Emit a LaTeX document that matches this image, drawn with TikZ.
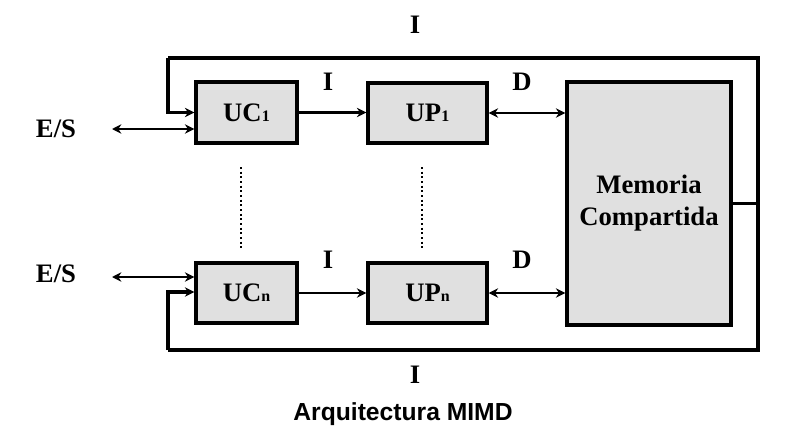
\documentclass[tikz,border=0pt]{standalone}
\usepackage{fontspec}
\setmainfont{Liberation Serif}
\setsansfont{Liberation Sans}
\usetikzlibrary{arrows.meta}
\begin{document}
\begin{tikzpicture}[x=0.75pt,y=-0.75pt,
  blk/.style={draw,line width=2.6pt,fill=black!12,font=\fontsize{20}{24}\selectfont\bfseries,inner sep=0pt},
  lbl/.style={font=\fontsize{20}{24}\selectfont\bfseries,inner sep=0pt},
  conn/.style={line width=2pt},
  tip/.style={-{Stealth[length=7pt,width=7pt]}},
  tips/.style={{Stealth[length=7pt,width=7pt]}-{Stealth[length=7pt,width=7pt]}},
  loop/.style={line width=2.4pt}]
\useasboundingbox (0,0) rectangle (797,439);
\newcommand{\sbx}[1]{{\fontsize{12}{12}\selectfont #1}}
\node[blk,minimum width=75.75pt,minimum height=45.75pt] (UC1) at (246.5,112.5) {UC\sbx{1}};
\node[blk,minimum width=89.25pt,minimum height=45pt] (UP1) at (427.5,113) {UP\sbx{1}};
\node[blk,minimum width=75.75pt,minimum height=45pt] (UCn) at (246.5,293) {UC\sbx{n}};
\node[blk,minimum width=89.25pt,minimum height=45pt] (UPn) at (427.5,293) {UP\sbx{n}};
\node[blk,minimum width=123pt,minimum height=182.25pt,align=center] (Mem) at (649,203.5) {Memoria\\Compartida};
% labels
\node[lbl] (ES1) at (56,129) {E/S};
\node[lbl] (ESn) at (56,274) {E/S};
\node[lbl] (I1) at (328,82) {I};
\node[lbl] (D1) at (522,82) {D};
\node[lbl] (In) at (328,260) {I};
\node[lbl] (Dn) at (522,260) {D};
\node[lbl] (Itop) at (415,25) {I};
\node[lbl] (Ibot) at (415,375) {I};
\node[font=\sffamily\bfseries\fontsize{18.5}{20}\selectfont,inner sep=0pt] (title) at (403,414) {Arquitectura MIMD};
% coordinates
\coordinate (e1) at (112,129);
\coordinate (en) at (112,277);
\coordinate (R) at (758,203.5);
\coordinate (TL) at (168,58);
\coordinate (BL) at (168,350);
% connectors
\draw[conn,tips] (e1) -- (e1 -| UC1.west);
\draw[conn,tips] (en) -- (en -| UCn.west);
\draw[conn,tip] (UC1.east) -- (UC1.east -| UP1.west);
\draw[conn,tip] (UCn.east) -- (UCn.east -| UPn.west);
\draw[conn,tips] (UP1.east) -- (UP1.east -| Mem.west);
\draw[conn,tips] (UPn.east) -- (UPn.east -| Mem.west);
\draw[loop] (Mem.east) -- (R);
\draw[loop] (R) |- (TL);
\draw[loop] (R) |- (BL);
\draw[loop,tip] (TL) |- (UC1.west);
\draw[loop,tip] (BL) |- ([yshift=0.75pt]UCn.west);
% dotted
\draw[line width=1.5pt,dotted] (241,167) -- (241,250);
\draw[line width=1.5pt,dotted] (422,167) -- (422,250);
\end{tikzpicture}
\end{document}
